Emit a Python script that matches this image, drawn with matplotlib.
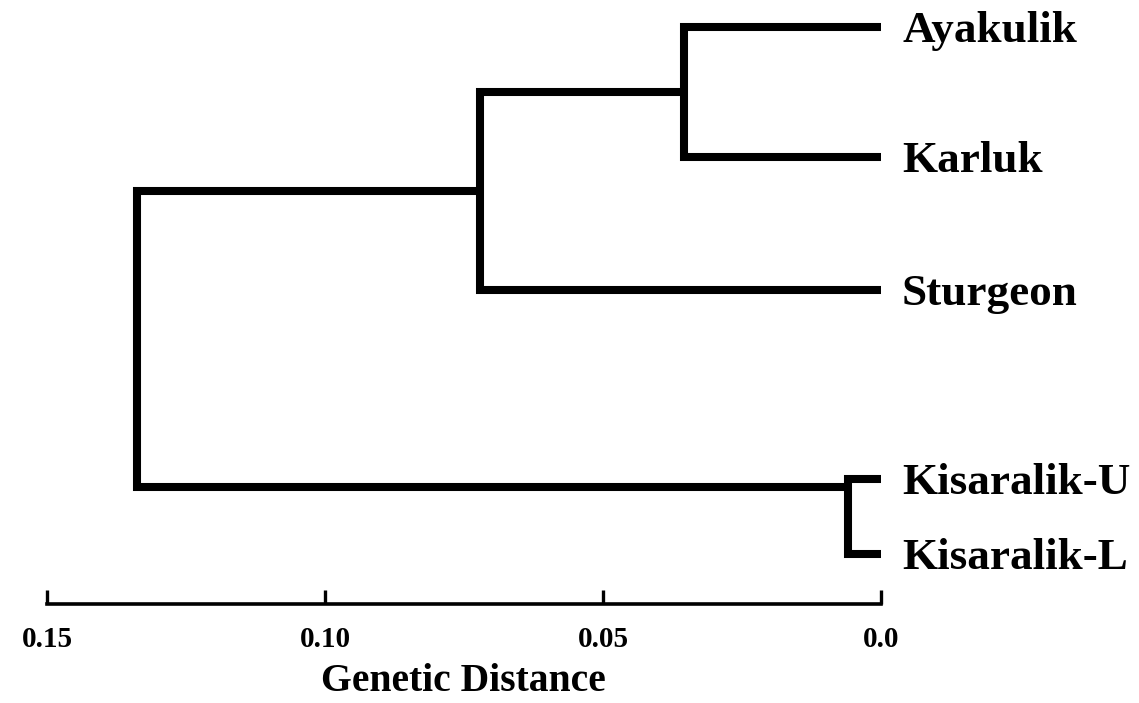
import matplotlib
matplotlib.use("Agg")
import matplotlib.pyplot as plt

# ---- data ----
leaves = ["Ayakulik", "Karluk", "Sturgeon", "Kisaralik-U", "Kisaralik-L"]
leaf_rows = [0.0, 1.0, 2.02, 3.48, 4.05]          # vertical position of each leaf (row units)
# merges: (child_a, child_b, distance, attach fraction along the vertical)
# children: leaf index (int) or "n<k>" for an earlier node
merge_a = [0, 3, "n0", "n1"]
merge_b = [1, 4, 2, "n2"]
merge_dist = [0.0354, 0.0059, 0.0722, 0.1338]
merge_attach = [0.5, 0.1, 0.5, 0.5]
tick_values = [0.15, 0.10, 0.05, 0.0]
tick_labels = ["0.15", "0.10", "0.05", "0.0"]
x_label = "Genetic Distance"

W, H, DPI = 1139, 703, 100
fig = plt.figure(figsize=(W / DPI, H / DPI), dpi=DPI)
ax = fig.add_axes([47 / W, 0.0, 834 / W, 1.0])
ax.set_xlim(0.15, 0.0)
ax.set_ylim(5.2, -0.2077)

LW = 5.8
SERIF = ["Liberation Serif", "DejaVu Serif"]

pos = {}
for i, y in enumerate(leaf_rows):
    pos[i] = (0.0, y)

for k, (a, b, d, f) in enumerate(zip(merge_a, merge_b, merge_dist, merge_attach)):
    xa, ya = pos[a]
    xb, yb = pos[b]
    ax.plot([xa, d, d, xb], [ya, ya, yb, yb], color="black", lw=LW,
            solid_joinstyle="miter", solid_capstyle="butt", clip_on=False)
    pos["n%d" % k] = (d, ya + f * (yb - ya))

for i, name in enumerate(leaves):
    ax.annotate(name, xy=(0.0, leaf_rows[i]), xytext=(21, -15),
                textcoords="offset pixels", ha="left", va="baseline",
                fontsize=32.5, fontweight="bold", family=SERIF)

# scale bar as the bottom spine
for s in ["top", "left", "right"]:
    ax.spines[s].set_visible(False)
ax.spines["bottom"].set_position(("data", 4.44))
ax.spines["bottom"].set_linewidth(2.6)
ax.spines["bottom"].set_capstyle("projecting")
ax.set_yticks([])
ax.set_xticks(tick_values)
ax.set_xticklabels(tick_labels, fontsize=21, fontweight="bold", family=SERIF)
ax.tick_params(axis="x", direction="in", length=10, width=2.4, pad=16)
ax.patch.set_visible(False)

fig.text(463 / W, (H - 691) / H, x_label, ha="center", va="baseline",
         fontsize=28.5, fontweight="bold", family=SERIF)

fig.savefig("out.png", dpi=DPI, facecolor="white")
